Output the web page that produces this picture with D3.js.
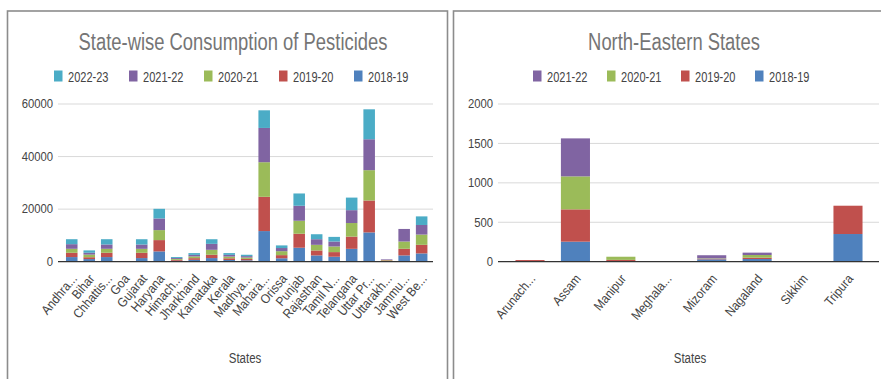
<!DOCTYPE html>
<html><head><meta charset="utf-8">
<script src="https://cdn.jsdelivr.net/npm/d3@7"></script>
<style>
html,body{margin:0;padding:0;background:#fff;}
svg text{font-family:"Liberation Sans",Arial,sans-serif;}
</style></head>
<body><svg id="c" width="881" height="379"></svg>
<script>
// ---------- data ----------
const states = ["Andhra...","Bihar","Chhattis...","Goa","Gujarat","Haryana","Himach...","Jharkhand","Karnataka","Kerala","Madhya...","Mahara...","Orissa","Punjab","Rajasthan","Tamil N...","Telangana","Uttar Pr...","Uttarakh...","Jammu...","West Be..."];
const y2018_19 = [1760,1000,1760,0,1380,3920,350,700,1380,650,530,11650,1300,5320,2390,1890,4900,11140,200,2390,3150];
const y2019_20 = [1640,700,1640,0,2010,4300,350,650,1260,650,530,13040,1200,5320,1890,1760,4650,12150,300,2520,3270];
const y2020_21 = [1510,1000,1510,0,1510,3800,350,650,1890,650,530,13160,1500,4940,2140,2140,5160,11530,150,2770,3900];
const y2021_22 = [1760,700,1640,0,1640,4430,350,600,2260,650,530,13040,1200,5700,2140,1890,4900,11770,230,4780,3650];
const y2022_23 = [1890,900,2010,0,2010,3670,360,670,1760,670,520,6710,1000,4680,1890,1760,4780,11390,0,0,3270];
const leftTicks = [0,20000,40000,60000];

const neStates = ["Arunach...","Assam","Manipur","Meghala...","Mizoram","Nagaland","Sikkim","Tripura"];
const ne2018_19 = [4,254,8,0,30,34,0,351];
const ne2019_20 = [17,410,15,0,6,17,0,359];
const ne2020_21 = [0,418,40,0,6,34,0,0];
const ne2021_22 = [0,482,0,0,40,30,0,0];
const rightTicks = [0,500,1000,1500,2000];

const seriesNames = ["2018-19","2019-20","2020-21","2021-22","2022-23"];
const seriesColors = ["#4F81BD","#C0504D","#9BBB59","#8064A2","#4BACC6"];

const svg = d3.select("#c");

function squeeze(sel, f){
  sel.each(function(){
    const w = this.getComputedTextLength();
    d3.select(this).attr("textLength", w*f).attr("lengthAdjust","spacingAndGlyphs");
  });
}

// panel frames
svg.append("rect").attr("x",7.5).attr("y",11).attr("width",440).attr("height",400)
  .attr("fill","none").attr("stroke","#8c8c8c").attr("stroke-width",1.6);
svg.append("rect").attr("x",453.5).attr("y",11).attr("width",440).attr("height",400)
  .attr("fill","none").attr("stroke","#8c8c8c").attr("stroke-width",1.6);

function drawChart(o){
  const g = svg.append("g");
  const rows = o.cats.map((c,i)=>{const r={cat:c}; o.series.forEach((s,j)=>r[o.keys[j]]=s[i]); return r;});
  const stack = d3.stack().keys(o.keys)(rows);
  const x = d3.scaleBand().domain(o.cats).range(o.xr).paddingInner(o.pad).paddingOuter(o.pad/2);
  const y = d3.scaleLinear().domain([0,o.ticks[o.ticks.length-1]]).range([261.7,104]);

  // gridlines
  g.selectAll(".grid").data(o.ticks.slice(1)).join("line")
    .attr("x1",o.gx[0]).attr("x2",o.gx[1]).attr("y1",d=>y(d)).attr("y2",d=>y(d))
    .attr("stroke","#d9d9d9").attr("stroke-width",1);
  // y labels
  const yl = g.selectAll(".yl").data(o.ticks).join("text")
    .attr("x",o.gx[0]-5).attr("y",d=>y(d)+4.3).attr("text-anchor","end")
    .attr("font-size",12).attr("fill","#444").text(d=>d);
  squeeze(yl, 0.94);

  // bars
  stack.forEach((layer,j)=>{
    g.selectAll(".b"+j).data(layer).join("rect")
      .attr("x",d=>x(d.data.cat)).attr("width",x.bandwidth())
      .attr("y",d=>y(d[1])).attr("height",d=>Math.max(0,y(d[0])-y(d[1])))
      .attr("fill",o.colors[j]);
  });
  // baseline
  g.append("line").attr("x1",o.gx[0]).attr("x2",o.gx[1]).attr("y1",y(0)).attr("y2",y(0))
    .attr("stroke","#333").attr("stroke-width",1.2);

  // x labels
  const xl = g.selectAll(".xl").data(o.cats).join("text")
    .attr("transform",d=>`translate(${x(d)+x.bandwidth()/2+6},${279}) rotate(-50)`)
    .attr("text-anchor","end").attr("font-size",13).attr("fill","#444").text(d=>d);
  squeeze(xl, 0.9);

  // axis title
  const xt = g.append("text").attr("x",o.xtX).attr("y",363).attr("text-anchor","middle")
    .attr("font-size",14).attr("fill","#444").text("States");
  squeeze(xt, 0.82);

  // title
  const t = g.append("text").attr("x",o.titleX).attr("y",50).attr("text-anchor","middle")
    .attr("font-size",23).attr("fill","#757575").text(o.title);
  squeeze(t, 0.8);

  // legend (reverse order)
  const items = o.keys.map((k,j)=>({name:k,color:o.colors[j]})).reverse();
  items.forEach((it,i)=>{
    const lx = o.legX + i*o.legStep;
    g.append("rect").attr("x",lx).attr("y",70.5).attr("width",8.5).attr("height",11).attr("fill",it.color);
    const lt = g.append("text").attr("x",lx+14).attr("y",81.5).attr("font-size",14.5).attr("fill","#444").text(it.name);
    squeeze(lt, 0.76);
  });
}

drawChart({cats:states, series:[y2018_19,y2019_20,y2020_21,y2021_22,y2022_23], keys:seriesNames,
  colors:seriesColors, ticks:leftTicks, xr:[63,430.4], pad:0.34, gx:[58,433],
  xtX:245, titleX:233, title:"State-wise Consumption of Pesticides", legX:54, legStep:75});

drawChart({cats:neStates, series:[ne2018_19,ne2019_20,ne2020_21,ne2021_22], keys:seriesNames.slice(0,4),
  colors:seriesColors.slice(0,4), ticks:rightTicks, xr:[507.3,870.7], pad:0.36, gx:[498,879],
  xtX:690, titleX:674, title:"North-Eastern States", legX:533, legStep:74});
</script></body></html>
